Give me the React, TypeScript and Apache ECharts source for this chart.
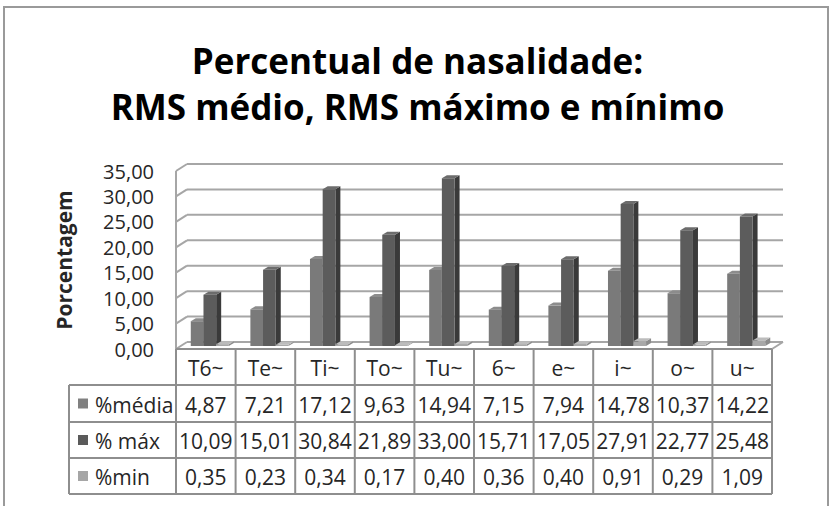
import React, { useEffect, useRef } from 'react';
import * as echarts from 'echarts';

const categories = ['T6~', 'Te~', 'Ti~', 'To~', 'Tu~', '6~', 'e~', 'i~', 'o~', 'u~'];
const media = [4.87, 7.21, 17.12, 9.63, 14.94, 7.15, 7.94, 14.78, 10.37, 14.22];
const maximo = [10.09, 15.01, 30.84, 21.89, 33.0, 15.71, 17.05, 27.91, 22.77, 25.48];
const minimo = [0.35, 0.23, 0.34, 0.17, 0.4, 0.36, 0.4, 0.91, 0.29, 1.09];
const seriesNames = ['%média', '% máx', '%min'];
const seriesData = [media, maximo, minimo];
const yTicks = [0, 5, 10, 15, 20, 25, 30, 35];

const FONT = 'Open Sans';
const frontColors = ['#7a7a7a', '#5c5c5c', '#a8a8a8'];
const sideColors = ['#555555', '#3a3a3a', '#8c8c8c'];
const topColors = ['#8c8c8c', '#6c6c6c', '#bcbcbc'];
const keyColors = ['#808080', '#5a5a5a', '#a6a6a6'];
const gridColor = '#a6a6a6';
const tableColor = '#8e8e8e';
const textColor = '#262626';

// layout constants
const DEPTH_X = 11;
const DEPTH_Y = -7;
const BAR_DX = 5;
const BAR_DY = -3;
const ROW_Y = [349, 385, 422, 458, 494];
const TABLE_LEFT = 69;

const fmt = (v: number) => v.toFixed(2).replace('.', ',');

export default function App() {
  const ref = useRef<HTMLDivElement>(null);
  useEffect(() => {
    document.body.style.margin = '0';
    const chart = echarts.init(ref.current!, null, { renderer: 'svg' });

    const barSeries = seriesData.map((vals, k) => ({
      type: 'custom',
      name: seriesNames[k],
      clip: false,
      z: 3 + k,
      data: vals.map((v, i) => [i, v]),
      renderItem: (params: any, api: any) => {
        const cat = api.value(0);
        const v = api.value(1);
        const bw = api.size([1, 0])[0];
        const base = api.coord([cat, 0]);
        const top = api.coord([cat, v]);
        const barW = bw * 0.213;
        const xl = base[0] + (-0.252 + k * 0.213) * bw;
        const yb = base[1] + BAR_DY;
        const yt = top[1] + BAR_DY;
        const xr = xl + barW;
        return {
          type: 'group',
          children: [
            {
              type: 'polygon',
              shape: { points: [[xr, yt], [xr + BAR_DX, yt + BAR_DY], [xr + BAR_DX, yb + BAR_DY], [xr, yb]] },
              style: { fill: sideColors[k] },
            },
            {
              type: 'polygon',
              shape: { points: [[xl, yt], [xl + BAR_DX, yt + BAR_DY], [xr + BAR_DX, yt + BAR_DY], [xr, yt]] },
              style: { fill: topColors[k] },
            },
            {
              type: 'rect',
              shape: { x: xl, y: yt, width: barW, height: yb - yt },
              style: { fill: frontColors[k] },
            },
          ],
        };
      },
    }));

    const wallSeries = {
      type: 'custom',
      clip: false,
      silent: true,
      z: 1,
      data: [[0, 0]],
      renderItem: (params: any, api: any) => {
        const bw = api.size([1, 0])[0];
        const x0 = api.coord([0, 0])[0] - bw / 2;
        const x1 = api.coord([categories.length - 1, 0])[0] + bw / 2;
        const children: any[] = [];
        const ls = { stroke: gridColor, lineWidth: 2 };
        yTicks.forEach((t) => {
          const y = api.coord([0, t])[1];
          children.push({ type: 'line', shape: { x1: x0, y1: y, x2: x0 + DEPTH_X, y2: y + DEPTH_Y }, style: ls });
          children.push({ type: 'line', shape: { x1: x0 + DEPTH_X, y1: y + DEPTH_Y, x2: x1 + DEPTH_X, y2: y + DEPTH_Y }, style: ls });
        });
        const y0 = api.coord([0, 0])[1];
        const yMax = api.coord([0, yTicks[yTicks.length - 1]])[1];
        children.push({ type: 'line', shape: { x1: x0, y1: y0, x2: x0, y2: yMax }, style: ls });
        children.push({ type: 'line', shape: { x1: x1, y1: y0, x2: x1 + DEPTH_X, y2: y0 + DEPTH_Y }, style: ls });
        return { type: 'group', children };
      },
    };

    const tableFrameSeries = {
      type: 'custom',
      clip: false,
      silent: true,
      z: 10,
      data: [[0, 0]],
      renderItem: (params: any, api: any) => {
        const bw = api.size([1, 0])[0];
        const x0 = api.coord([0, 0])[0] - bw / 2;
        const x1 = api.coord([categories.length - 1, 0])[0] + bw / 2;
        const ls = { stroke: tableColor, lineWidth: 2 };
        const children: any[] = [];
        children.push({ type: 'line', shape: { x1: x0, y1: ROW_Y[0], x2: x1, y2: ROW_Y[0] }, style: ls });
        for (let r = 1; r < ROW_Y.length; r++) {
          children.push({ type: 'line', shape: { x1: TABLE_LEFT, y1: ROW_Y[r], x2: x1, y2: ROW_Y[r] }, style: ls });
        }
        children.push({ type: 'line', shape: { x1: TABLE_LEFT, y1: ROW_Y[1], x2: TABLE_LEFT, y2: ROW_Y[4] }, style: ls });
        children.push({ type: 'line', shape: { x1: x0, y1: ROW_Y[0], x2: x0, y2: ROW_Y[4] }, style: ls });
        seriesNames.forEach((name, k) => {
          const yc = (ROW_Y[k + 1] + ROW_Y[k + 2]) / 2;
          children.push({ type: 'rect', shape: { x: 78, y: yc - 5, width: 10, height: 10 }, style: { fill: keyColors[k] } });
          children.push({
            type: 'text',
            style: {
              text: name, x: 95, y: yc + 1, align: 'left', textAlign: 'left', verticalAlign: 'middle', textVerticalAlign: 'middle',
              fontSize: 21, fontFamily: FONT, fill: textColor,
            },
          });
        });
        return { type: 'group', children };
      },
    };

    const tableCellSeries = {
      type: 'custom',
      clip: false,
      silent: true,
      z: 11,
      data: categories.map((c, i) => [i, 0]),
      renderItem: (params: any, api: any) => {
        const i = api.value(0);
        const bw = api.size([1, 0])[0];
        const cx = api.coord([i, 0])[0];
        const ls = { stroke: tableColor, lineWidth: 2 };
        const txt = (text: string, y: number) => ({
          type: 'text',
          style: {
            text, x: cx, y, align: 'center', textAlign: 'center', verticalAlign: 'middle', textVerticalAlign: 'middle',
            fontSize: 21, fontFamily: FONT, fill: textColor,
          },
        });
        const children: any[] = [
          { type: 'line', shape: { x1: cx + bw / 2, y1: ROW_Y[0], x2: cx + bw / 2, y2: ROW_Y[4] }, style: ls },
          txt(categories[i], (ROW_Y[0] + ROW_Y[1]) / 2 + 1),
        ];
        seriesData.forEach((vals, k) => {
          children.push(txt(fmt(vals[i]), (ROW_Y[k + 1] + ROW_Y[k + 2]) / 2 + 1));
        });
        return { type: 'group', children };
      },
    };

    chart.setOption({
      animation: false,
      backgroundColor: '#ffffff',
      title: {
        text: 'Percentual de nasalidade:\nRMS médio, RMS máximo e mínimo',
        left: 'center',
        top: 32,
        textStyle: { fontFamily: FONT, fontSize: 35, fontWeight: 'bold', color: '#000000', lineHeight: 46 },
      },
      graphic: [
        {
          type: 'rect',
          shape: { x: 4, y: 7, width: 824, height: 520 },
          style: { fill: 'none', stroke: '#9a9a9a', lineWidth: 2 },
          silent: true,
        },
      ],
      grid: { left: 176, right: 63, top: 171, height: 178 },
      xAxis: {
        type: 'category',
        data: categories,
        axisLine: { show: false },
        axisTick: { show: false },
        axisLabel: { show: false },
        splitLine: { show: false },
      },
      yAxis: {
        type: 'value',
        min: 0,
        max: 35,
        interval: 5,
        name: 'Porcentagem',
        nameLocation: 'middle',
        nameRotate: 90,
        nameGap: 102,
        nameTextStyle: { fontFamily: FONT, fontSize: 21, fontWeight: 'bold', color: textColor },
        axisLine: { show: false },
        axisTick: { show: false },
        splitLine: { show: false },
        axisLabel: {
          formatter: (v: number) => fmt(v),
          fontFamily: FONT,
          fontSize: 20,
          color: textColor,
          margin: 22,
        },
      },
      series: [wallSeries, ...barSeries, tableFrameSeries, tableCellSeries],
    });
    return () => chart.dispose();
  }, []);
  return <div ref={ref} style={{ width: 835, height: 506 }} />;
}
